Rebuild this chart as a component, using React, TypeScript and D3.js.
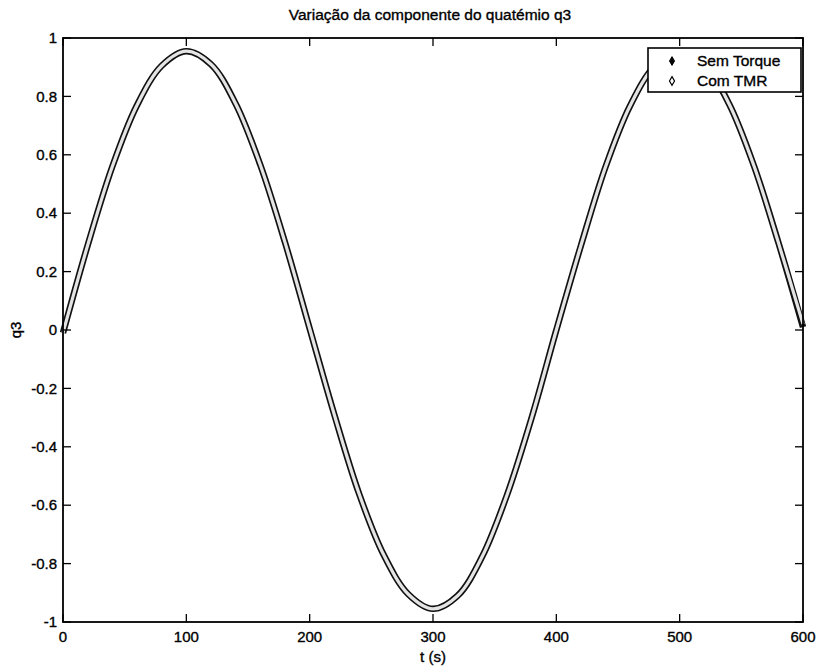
import React from "react";
import * as d3 from "d3";

const W = 819;
const H = 671;

const TITLE = "Variação da componente do quatémio q3";
const X_LABEL = "t (s)";
const Y_LABEL = "q3";
const SERIES_NAMES = ["Sem Torque", "Com TMR"];

const times = [0, 20, 40, 60, 80, 100, 120, 140, 160, 180, 200, 220, 240, 260, 280, 300, 320, 340, 360, 380, 400, 420, 440, 460, 480, 500, 520, 540, 560, 580, 600];
const semTorque = [-0.01, 0.29, 0.56, 0.77, 0.905, 0.955, 0.91, 0.775, 0.565, 0.3, 0.005, -0.29, -0.56, -0.77, -0.905, -0.955, -0.91, -0.775, -0.565, -0.3, 0.0, 0.29, 0.56, 0.77, 0.905, 0.955, 0.91, 0.775, 0.565, 0.3, 0.01];
const comTMR = [-0.01, 0.29, 0.56, 0.77, 0.905, 0.955, 0.91, 0.775, 0.565, 0.3, 0.005, -0.29, -0.56, -0.77, -0.905, -0.955, -0.91, -0.775, -0.565, -0.3, 0.0, 0.29, 0.56, 0.77, 0.905, 0.955, 0.91, 0.775, 0.565, 0.3, 0.02];

const xTicks = [0, 100, 200, 300, 400, 500, 600];
const yTicks = [-1, -0.8, -0.6, -0.4, -0.2, 0, 0.2, 0.4, 0.6, 0.8, 1];

const FONT = "'Liberation Sans', Arial, sans-serif";

export default function App() {
  const left = 63, right = 803, top = 38, bottom = 622;
  const x = d3.scaleLinear().domain([0, 600]).range([left, right]);
  const y = d3.scaleLinear().domain([-1, 1]).range([bottom, top]);
  const tickLen = 8;

  const line = (vals: number[]) =>
    d3.line<number>()
      .x((_, i) => x(times[i]))
      .y((v) => y(v))
      .curve(d3.curveCatmullRom.alpha(0.5))(vals) || "";

  const fmt = (v: number) => (Math.abs(v) < 1e-9 ? "0" : String(+v.toFixed(1)));

  const lx = 648, ly = 48, lw = 153, lh = 44;
  const textStyle = { fill: "#000", stroke: "#000", strokeWidth: 0.35 } as const;

  return (
    <svg width={W} height={H} style={{ position: "absolute", left: 0, top: 0, background: "#fff" }} fontFamily={FONT}>
      <rect x={0} y={0} width={W} height={H} fill="#fff" />
      {/* series */}
      <path d={line(semTorque)} fill="none" stroke="#111" strokeWidth={6.5} strokeLinejoin="round" />
      <path d={line(comTMR)} fill="none" stroke="#e4e4e4" strokeWidth={3.2} strokeLinejoin="round" />

      {/* axes box */}
      <rect x={left} y={top} width={right - left} height={bottom - top} fill="none" stroke="#000" strokeWidth={1.8} />

      {/* x ticks */}
      {xTicks.map((t) => (
        <g key={"x" + t}>
          <line x1={x(t)} x2={x(t)} y1={bottom} y2={bottom - tickLen} stroke="#000" strokeWidth={1.3} />
          <line x1={x(t)} x2={x(t)} y1={top} y2={top + tickLen} stroke="#000" strokeWidth={1.3} />
          <text x={x(t)} y={bottom + 20} textAnchor="middle" fontSize={15} {...textStyle}>{t}</text>
        </g>
      ))}
      {/* y ticks */}
      {yTicks.map((t) => (
        <g key={"y" + t}>
          <line x1={left} x2={left + tickLen} y1={y(t)} y2={y(t)} stroke="#000" strokeWidth={1.3} />
          <line x1={right} x2={right - tickLen} y1={y(t)} y2={y(t)} stroke="#000" strokeWidth={1.3} />
          <text x={left - 6} y={y(t)} dy="0.35em" textAnchor="end" fontSize={15} {...textStyle}>{fmt(t)}</text>
        </g>
      ))}

      {/* title & labels */}
      <text x={430} y={20} textAnchor="middle" fontSize={15.5} {...textStyle}>{TITLE}</text>
      <text x={(left + right) / 2} y={662} textAnchor="middle" fontSize={15} {...textStyle}>{X_LABEL}</text>
      <text transform={`translate(21, ${y(0)}) rotate(-90)`} textAnchor="middle" fontSize={15} {...textStyle}>{Y_LABEL}</text>

      {/* legend */}
      <rect x={lx} y={ly} width={lw} height={lh} fill="#fff" stroke="#000" strokeWidth={1.6} />
      <path d={d3.symbol(d3.symbolDiamond, 22)() || ""} transform={`translate(${lx + 24}, ${ly + 13})`} fill="#000" stroke="#000" />
      <text x={lx + 49} y={ly + 13} dy="0.35em" fontSize={15.5} {...textStyle}>{SERIES_NAMES[0]}</text>
      <path d={d3.symbol(d3.symbolDiamond, 22)() || ""} transform={`translate(${lx + 24}, ${ly + 33})`} fill="#fff" stroke="#000" strokeWidth={1.2} />
      <text x={lx + 49} y={ly + 33} dy="0.35em" fontSize={15.5} {...textStyle}>{SERIES_NAMES[1]}</text>
    </svg>
  );
}
